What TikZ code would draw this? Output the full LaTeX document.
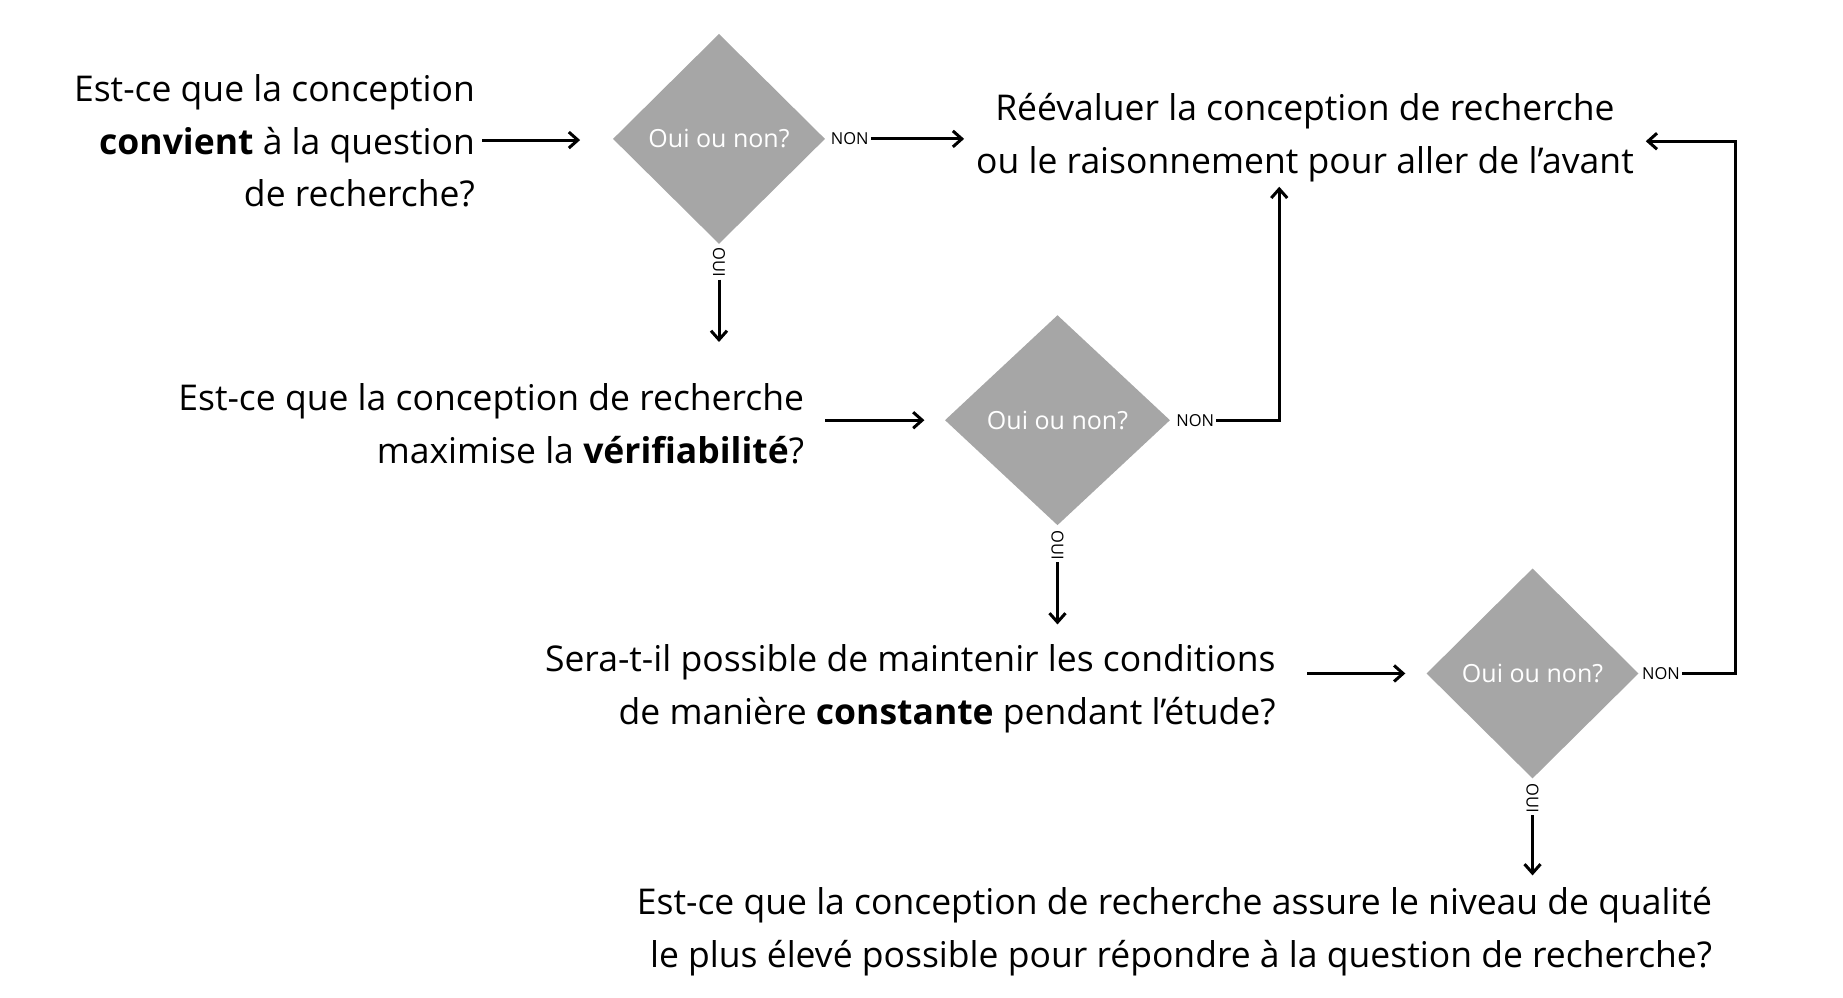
\documentclass[tikz,border=0pt]{standalone}
\usepackage{fontspec}
\setmainfont{Open Sans}
\usetikzlibrary{shapes.geometric,arrows.meta}
\begin{document}
\begin{tikzpicture}[x=1.167pt,y=-1.167pt,
  q/.style={font=\fontsize{35.5}{52.5}\selectfont,inner sep=0pt,align=right},
  dia/.style={diamond,fill=black!35,inner sep=0pt,minimum width=212pt,minimum height=210pt,text=white,font=\fontsize{25}{28}\selectfont},
  lab/.style={font=\fontsize{16.5}{19}\selectfont,inner sep=2pt},
  arr/.style={line width=3pt,-{Straight Barb[length=9pt,width=16pt,line width=3pt]}},
  ln/.style={line width=3pt}]
\useasboundingbox (0,0) rectangle (1579,855);
% question texts
\node[q,anchor=east] (t1) at (407,121) {Est-ce que la conception\\\textbf{convient} à la question\\de recherche?};
\node[q,anchor=east] (t2) at (689,363) {Est-ce que la conception de recherche\\maximise la \textbf{vérifiabilité}?};
\node[q,anchor=east] (t3) at (1093,590) {Sera-t-il possible de maintenir les conditions\\de manière \textbf{constante} pendant l'étude?};
\node[q,anchor=east] (t4) at (1467,798) {Est-ce que la conception de recherche assure le niveau de qualité\\le plus élevé possible pour répondre à la question de recherche?};
\node[q,align=center] (r) at (1118,118) {Réévaluer la conception de recherche\\ou le raisonnement pour aller de l'avant};
% diamonds
\node[dia] (d1) at (616,119) {Oui ou non?};
\node[dia,minimum width=225pt] (d2) at (906,360) {Oui ou non?};
\node[dia] (d3) at (1313,577) {Oui ou non?};
% labels
\node[lab] (n1) at (728,119) {NON};
\node[lab] (n2) at (1024,360) {NON};
\node[lab] (n3) at (1423,577) {NON};
\node[lab,rotate=-90] (o1) at (616,225) {OUI};
\node[lab,rotate=-90] (o2) at (906,467) {OUI};
\node[lab,rotate=-90] (o3) at (1313,684) {OUI};
% coordinates
\coordinate (a1s) at (413,120); \coordinate (a1e) at (497,120);
\coordinate (a2s) at (707,360); \coordinate (a2e) at (792,360);
\coordinate (a3s) at (1120,577); \coordinate (a3e) at (1204,577);
\coordinate (rn) at (826,119);
\coordinate (rb) at (1096,160);
\coordinate (rr) at (1410,121);
\coordinate (c1) at (616,293); \coordinate (c2) at (906,535); \coordinate (c3) at (1313,750);
\coordinate (k3) at (1487,577);
% connectors
\draw[arr] (a1s) -- (a1e);
\draw[arr] (a2s) -- (a2e);
\draw[arr] (a3s) -- (a3e);
\draw[arr] (n1.east) -- (rn);
\draw[arr] (n2.east) -| (rb);
\draw[arr] (n3.east) -- (k3) |- (rr);
\draw[arr] (o1.east) -- (c1);
\draw[arr] (o2.east) -- (c2);
\draw[arr] (o3.east) -- (c3);
\end{tikzpicture}
\end{document}
